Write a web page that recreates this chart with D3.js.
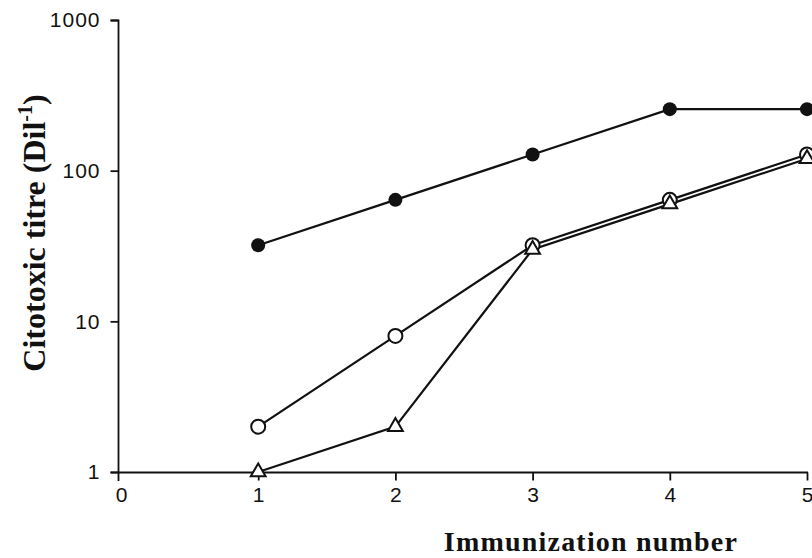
<!DOCTYPE html>
<html><head><meta charset="utf-8">
<script src="https://cdn.jsdelivr.net/npm/d3@7"></script>
<style>body{margin:0;background:#fff}svg{display:block}</style>
</head><body>
<script>
const immunizations = [1, 2, 3, 4, 5];
const filledCircles = [32, 64, 128, 256, 256];
const openCircles = [2, 8, 32, 64, 128];
const openTriangles = [1, 2, 30, 60, 120];
const xTicks = [0, 1, 2, 3, 4, 5];
const yTicks = [1, 10, 100, 1000];

const W = 812, H = 558;
const svg = d3.select("body").append("svg").attr("width", W).attr("height", H);
const x = d3.scaleLinear().domain([0, 5]).range([121, 807]);
const y = d3.scaleLog().domain([1, 1000]).range([472, 20]);
const axisX = 118.5;

// y axis
const ya = svg.append("g").attr("transform", `translate(${axisX},0)`)
  .call(d3.axisLeft(y).tickValues(yTicks).tickFormat(d3.format("d")).tickSize(8).tickPadding(10));
ya.select(".domain").attr("d", `M-8,20.5H0V481`);
// x axis
const xa = svg.append("g").attr("transform", `translate(0,472.5)`)
  .call(d3.axisBottom(x).tickValues(xTicks).tickFormat(d3.format("d")).tickSize(8).tickPadding(7));
xa.select(".domain").attr("d", `M${axisX - 8},0H808`);
xa.selectAll(".tick").filter(d => d === 0).select("line").remove();
svg.selectAll(".domain, .tick line").attr("stroke", "#111").attr("stroke-width", 1.8);
svg.selectAll(".tick text").attr("font-family", "Arial, 'Liberation Sans', sans-serif")
  .style("font-size", "21px").attr("fill", "#111");
ya.selectAll(".tick text").attr("letter-spacing", 1);
xa.selectAll(".tick").filter(d => d === 5).select("text").attr("text-anchor", "end").attr("dx", 6);

const line = d3.line().x((d, i) => x(immunizations[i])).y(d => y(d));
const series = [openTriangles, openCircles, filledCircles];
series.forEach(s => {
  svg.append("path").attr("d", line(s)).attr("fill", "none")
    .attr("stroke", "#111").attr("stroke-width", 2.2);
});

// markers
svg.selectAll(".fc").data(filledCircles).enter().append("circle")
  .attr("cx", (d, i) => x(immunizations[i])).attr("cy", d => y(d)).attr("r", 7).attr("fill", "#111");
svg.selectAll(".oc").data(openCircles).enter().append("circle")
  .attr("cx", (d, i) => x(immunizations[i])).attr("cy", d => y(d)).attr("r", 7)
  .attr("fill", "#fff").attr("stroke", "#111").attr("stroke-width", 2);
const tri = d3.symbol().type(d3.symbolTriangle).size(95);
svg.selectAll(".ot").data(openTriangles).enter().append("path")
  .attr("d", tri).attr("transform", (d, i) => `translate(${x(immunizations[i])},${y(d)})`)
  .attr("fill", "#fff").attr("stroke", "#111").attr("stroke-width", 2);

// axis titles
const yt = svg.append("text").attr("transform", "translate(45,233) rotate(-90)")
  .attr("text-anchor", "middle").attr("font-family", "'Liberation Serif', 'Times New Roman', serif")
  .attr("font-weight", "bold").attr("font-size", 32).attr("fill", "#111");
yt.append("tspan").text("Citotoxic titre (Dil");
yt.append("tspan").text("-1").attr("font-size", 20).attr("dy", -13);
yt.append("tspan").text(")").attr("dy", 13);

svg.append("text").attr("x", 591).attr("y", 551).attr("text-anchor", "middle")
  .attr("font-family", "'Liberation Serif', 'Times New Roman', serif")
  .attr("font-weight", "bold").attr("font-size", 28).attr("letter-spacing", 1.2).attr("fill", "#111")
  .text("Immunization number");
</script>
</body></html>
